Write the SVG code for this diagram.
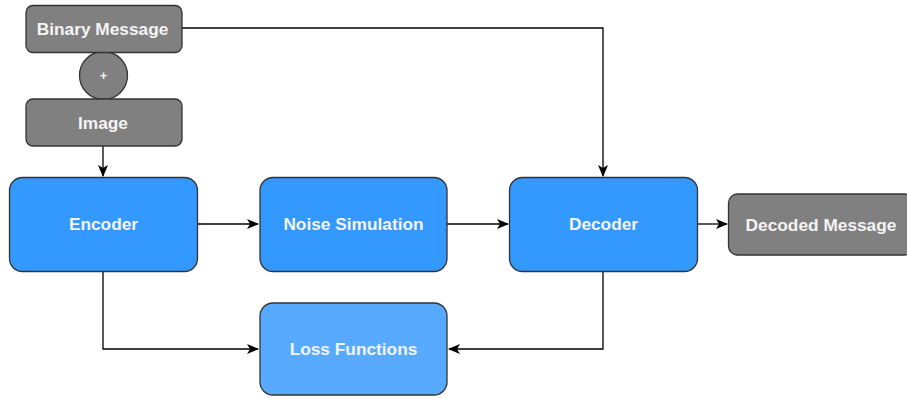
<svg xmlns="http://www.w3.org/2000/svg" width="907" height="399" viewBox="0 0 907 399">
<defs>
<style>
.gray{fill:#808080;stroke:#333333;stroke-width:1.3}
.blue{fill:#3399FF;stroke:#333333;stroke-width:1.3}
.light{fill:#57AAFF;stroke:#333333;stroke-width:1.3}
.lbl{font-family:"Liberation Sans",Arial,sans-serif;font-weight:bold;font-size:17.3px;fill:#f4f4f4;text-anchor:middle;dominant-baseline:central}
.edge{fill:none;stroke:#000000;stroke-width:1.3}
</style>
<marker id="arr" viewBox="0 0 12 10" refX="11" refY="5" markerWidth="12" markerHeight="10" markerUnits="userSpaceOnUse" orient="auto">
<path d="M0,0 L12,5 L0,10 L3,5 Z" fill="#000000"/>
</marker>
</defs>
<rect width="907" height="399" fill="#ffffff"/>
<g id="connectors">
<path class="edge" d="M182,28 H603 V176" marker-end="url(#arr)"/>
<path class="edge" d="M103,146 V176" marker-end="url(#arr)"/>
<path class="edge" d="M198,224 H258" marker-end="url(#arr)"/>
<path class="edge" d="M447,224 H508" marker-end="url(#arr)"/>
<path class="edge" d="M698,224 H727" marker-end="url(#arr)"/>
<path class="edge" d="M103,272 V349 H258" marker-end="url(#arr)"/>
<path class="edge" d="M603,272 V349 H449" marker-end="url(#arr)"/>
</g>
<g id="plus">
<circle class="gray" cx="103.5" cy="75.5" r="24"/>
<text class="lbl" x="103.5" y="75.5" style="font-size:13px">+</text>
</g>
<g id="binary-message">
<rect class="gray" x="26" y="5.5" width="156" height="47" rx="7"/>
<text class="lbl" x="102.5" y="28.5">Binary Message</text>
</g>
<g id="image">
<rect class="gray" x="26" y="99" width="156" height="47" rx="7"/>
<text class="lbl" x="103" y="122.5">Image</text>
</g>
<g id="encoder">
<rect class="blue" x="9.5" y="177.5" width="188" height="94" rx="13"/>
<text class="lbl" x="103.5" y="224">Encoder</text>
</g>
<g id="noise-simulation">
<rect class="blue" x="260" y="177.5" width="187" height="94" rx="13"/>
<text class="lbl" x="353.5" y="224">Noise Simulation</text>
</g>
<g id="decoder">
<rect class="blue" x="509.5" y="177.5" width="188" height="94" rx="13"/>
<text class="lbl" x="603.5" y="224">Decoder</text>
</g>
<g id="decoded-message">
<rect class="gray" x="728.5" y="194" width="185" height="61" rx="9"/>
<text class="lbl" x="821" y="224.5">Decoded Message</text>
</g>
<g id="loss-functions">
<rect class="light" x="260" y="303" width="187" height="92" rx="13"/>
<text class="lbl" x="353.5" y="349">Loss Functions</text>
</g>
</svg>
